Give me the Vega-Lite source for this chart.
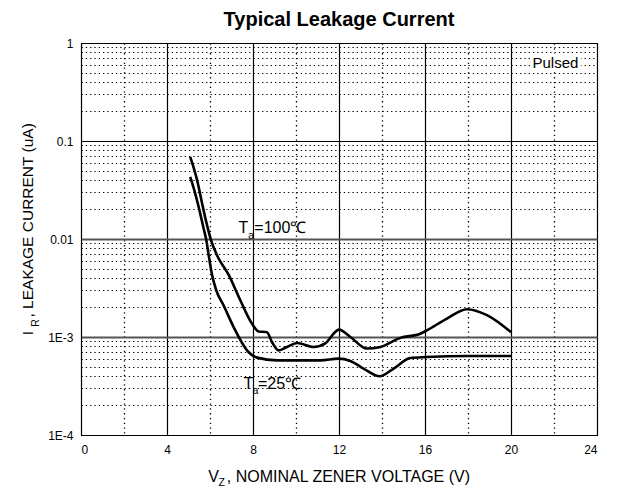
{
  "$schema": "https://vega.github.io/schema/vega-lite/v6.json",
  "width": 516,
  "height": 392,
  "autosize": {"type": "none"},
  "padding": {"left": 81, "top": 43, "right": 21, "bottom": 54},
  "background": "white",
  "config": {
    "font": "Liberation Sans",
    "view": {"stroke": "black", "strokeWidth": 1},
    "axis": {"labelFont": "Liberation Sans", "labelFontSize": 12, "labelColor": "black"}
  },
  "title": {
    "text": "Typical Leakage Current",
    "fontSize": 20,
    "fontWeight": "bold",
    "font": "Liberation Sans",
    "color": "black",
    "anchor": "middle",
    "baseline": "alphabetic",
    "offset": -9
  },
  "datasets": {
    "curves": [
      {"x": 5.08, "y": 0.069, "s": "100"},
      {"x": 5.40, "y": 0.0399, "s": "100"},
      {"x": 5.63, "y": 0.0232, "s": "100"},
      {"x": 5.85, "y": 0.0142, "s": "100"},
      {"x": 6.05, "y": 0.0097, "s": "100"},
      {"x": 6.33, "y": 0.0068, "s": "100"},
      {"x": 6.87, "y": 0.0043, "s": "100"},
      {"x": 7.41, "y": 0.00237, "s": "100"},
      {"x": 7.95, "y": 0.00137, "s": "100"},
      {"x": 8.26, "y": 0.00114, "s": "100"},
      {"x": 8.65, "y": 0.00112, "s": "100"},
      {"x": 8.88, "y": 0.00089, "s": "100"},
      {"x": 9.19, "y": 0.00073, "s": "100"},
      {"x": 9.58, "y": 0.00079, "s": "100"},
      {"x": 10.05, "y": 0.00087, "s": "100"},
      {"x": 10.82, "y": 0.00079, "s": "100"},
      {"x": 11.36, "y": 0.00086, "s": "100"},
      {"x": 12.0, "y": 0.00119, "s": "100"},
      {"x": 12.53, "y": 0.00100, "s": "100"},
      {"x": 13.30, "y": 0.000762, "s": "100"},
      {"x": 13.92, "y": 0.00079, "s": "100"},
      {"x": 14.85, "y": 0.00098, "s": "100"},
      {"x": 15.78, "y": 0.00108, "s": "100"},
      {"x": 16.09, "y": 0.00117, "s": "100"},
      {"x": 17.02, "y": 0.00154, "s": "100"},
      {"x": 17.95, "y": 0.00192, "s": "100"},
      {"x": 18.88, "y": 0.00167, "s": "100"},
      {"x": 20.0, "y": 0.00112, "s": "100"},
      {"x": 5.08, "y": 0.043, "s": "25"},
      {"x": 5.32, "y": 0.0287, "s": "25"},
      {"x": 5.53, "y": 0.0188, "s": "25"},
      {"x": 5.69, "y": 0.0132, "s": "25"},
      {"x": 5.83, "y": 0.0097, "s": "25"},
      {"x": 5.94, "y": 0.0068, "s": "25"},
      {"x": 6.08, "y": 0.00448, "s": "25"},
      {"x": 6.29, "y": 0.0030, "s": "25"},
      {"x": 6.63, "y": 0.00211, "s": "25"},
      {"x": 7.10, "y": 0.00126, "s": "25"},
      {"x": 7.72, "y": 0.000731, "s": "25"},
      {"x": 8.19, "y": 0.000616, "s": "25"},
      {"x": 9.12, "y": 0.000578, "s": "25"},
      {"x": 10.2, "y": 0.000578, "s": "25"},
      {"x": 11.13, "y": 0.000578, "s": "25"},
      {"x": 11.98, "y": 0.000601, "s": "25"},
      {"x": 12.53, "y": 0.000569, "s": "25"},
      {"x": 13.14, "y": 0.000476, "s": "25"},
      {"x": 13.89, "y": 0.000397, "s": "25"},
      {"x": 14.54, "y": 0.000476, "s": "25"},
      {"x": 15.32, "y": 0.000611, "s": "25"},
      {"x": 16.09, "y": 0.000625, "s": "25"},
      {"x": 17.95, "y": 0.00064, "s": "25"},
      {"x": 20.0, "y": 0.00064, "s": "25"}
    ],
    "labels": [
      {"x": 7.32, "y": 0.01164, "t": "T", "role": "main"},
      {"x": 7.78, "y": 0.01007, "t": "a", "role": "sub"},
      {"x": 8.06, "y": 0.01164, "t": "=100℃", "role": "main"},
      {"x": 7.56, "y": 0.000297, "t": "T", "role": "main"},
      {"x": 7.98, "y": 0.00026, "t": "a", "role": "sub"},
      {"x": 8.23, "y": 0.000297, "t": "=25℃", "role": "main"},
      {"x": 5.92, "y": 0.0000328, "t": "V", "role": "main"},
      {"x": 6.40, "y": 0.0000305, "t": "Z", "role": "sub"},
      {"x": 6.78, "y": 0.0000328, "t": ", NOMINAL ZENER VOLTAGE (V)", "role": "main"},
      {"x": -2.25, "y": 0.00104, "t": "I", "role": "vmain"},
      {"x": -1.97, "y": 0.00127, "t": "R", "role": "vsub"},
      {"x": -2.25, "y": 0.00158, "t": ", LEAKAGE CURRENT (uA)", "role": "vmain"},
      {"x": 21.0, "y": 0.552, "t": "Pulsed", "role": "note"}
    ]
  },
  "encoding": {
    "x": {
      "field": "x", "type": "quantitative",
      "scale": {"domain": [0, 24], "zero": false, "nice": false},
      "axis": {
        "values": [0, 2, 4, 6, 8, 10, 12, 14, 16, 18, 20, 22, 24],
        "labelExpr": "datum.value % 4 == 0 ? datum.label : ''",
        "labelOverlap": false,
        "labelPadding": 9,
        "ticks": false,
        "domain": true,
        "domainColor": "black",
        "title": null,
        "grid": true,
        "gridColor": "black",
        "gridOpacity": 1,
        "gridWidth": {"condition": {"test": "datum.value % 4 == 0", "value": 1.2}, "value": 1.3},
        "gridDash": {"condition": {"test": "datum.value % 4 == 0", "value": []}, "value": [1.3, 3.5]}
      }
    },
    "y": {
      "field": "y", "type": "quantitative",
      "scale": {"type": "log", "domain": [0.0001, 1], "nice": false},
      "axis": {
        "values": [0.0001, 0.0002, 0.0003, 0.0004, 0.0005, 0.0006, 0.0007, 0.0008, 0.0009, 0.001, 0.002, 0.003, 0.004, 0.005, 0.006, 0.007, 0.008, 0.009, 0.01, 0.02, 0.03, 0.04, 0.05, 0.06, 0.07, 0.08, 0.09, 0.1, 0.2, 0.3, 0.4, 0.5, 0.6, 0.7, 0.8, 0.9, 1],
        "labelExpr": "datum.value == 1 ? '1' : datum.value == 0.1 ? '0.1' : datum.value == 0.01 ? '0.01' : datum.value == 0.001 ? '1E-3' : datum.value == 0.0001 ? '1E-4' : ''",
        "labelOverlap": false,
        "labelPadding": 8,
        "ticks": false,
        "domain": true,
        "domainColor": "black",
        "title": null,
        "grid": true,
        "gridOpacity": 1,
        "gridColor": {"condition": {"test": "datum.value == 0.01 || datum.value == 0.001", "value": "#555555"}, "value": "black"},
        "gridWidth": {"condition": {"test": "datum.value == 0.01 || datum.value == 0.001", "value": 2.2}, "value": 1.2},
        "gridDash": {"condition": {"test": "datum.value == 1 || datum.value == 0.1 || datum.value == 0.01 || datum.value == 0.001 || datum.value == 0.0001", "value": []}, "value": [1.3, 3]}
      }
    }
  },
  "layer": [
    {
      "data": {"name": "curves"},
      "mark": {"type": "line", "interpolate": "monotone", "strokeWidth": 2.6, "color": "black", "clip": true},
      "encoding": {
        "detail": {"field": "s", "type": "nominal"}
      }
    },
    {
      "data": {"name": "labels"},
      "transform": [{"filter": "datum.role == 'main'"}],
      "mark": {"type": "text", "align": "left", "baseline": "alphabetic", "fontSize": 16, "font": "Liberation Sans", "color": "black"},
      "encoding": {"text": {"field": "t"}}
    },
    {
      "data": {"name": "labels"},
      "transform": [{"filter": "datum.role == 'sub'"}],
      "mark": {"type": "text", "align": "left", "baseline": "alphabetic", "fontSize": 10.5, "font": "Liberation Sans", "color": "black"},
      "encoding": {"text": {"field": "t"}}
    },
    {
      "data": {"name": "labels"},
      "transform": [{"filter": "datum.role == 'vmain'"}],
      "mark": {"type": "text", "align": "left", "baseline": "alphabetic", "angle": -90, "fontSize": 15.5, "font": "Liberation Sans", "color": "black"},
      "encoding": {"text": {"field": "t"}}
    },
    {
      "data": {"name": "labels"},
      "transform": [{"filter": "datum.role == 'vsub'"}],
      "mark": {"type": "text", "align": "left", "baseline": "alphabetic", "angle": -90, "fontSize": 10.5, "font": "Liberation Sans", "color": "black"},
      "encoding": {"text": {"field": "t"}}
    },
    {
      "data": {"name": "labels"},
      "transform": [{"filter": "datum.role == 'note'"}],
      "mark": {"type": "text", "align": "left", "baseline": "alphabetic", "fontSize": 15, "font": "Liberation Sans", "color": "white", "stroke": "white", "strokeWidth": 7},
      "encoding": {"text": {"field": "t"}}
    },
    {
      "data": {"name": "labels"},
      "transform": [{"filter": "datum.role == 'note'"}],
      "mark": {"type": "text", "align": "left", "baseline": "alphabetic", "fontSize": 15, "font": "Liberation Sans", "color": "black"},
      "encoding": {"text": {"field": "t"}}
    }
  ]
}
